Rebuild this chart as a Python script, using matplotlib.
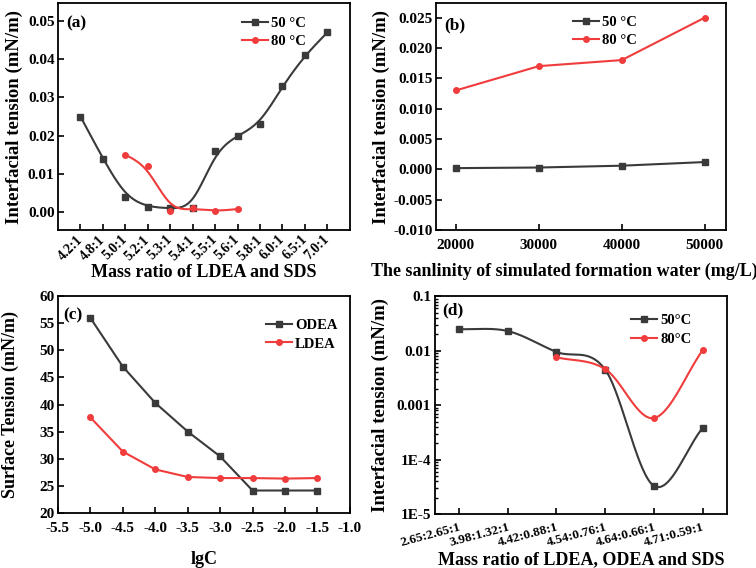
import numpy as np
import matplotlib.pyplot as plt
from matplotlib.ticker import MultipleLocator, FixedLocator, NullFormatter

plt.rcParams['font.family'] = 'Liberation Serif'
plt.rcParams['font.weight'] = 'bold'
plt.rcParams['axes.labelweight'] = 'bold'

BLACK = '#3a3a3a'
RED = '#f03c3c'

# (a) IFT vs mass ratio LDEA:SDS
ratios_a = ['4.2:1', '4.8:1', '5.0:1', '5.2:1', '5.3:1', '5.4:1',
            '5.5:1', '5.6:1', '5.8:1', '6.0:1', '6.5:1', '7.0:1']
ift_a_50 = [0.025, 0.014, 0.004, 0.0013, 0.001, 0.001,
            0.016, 0.020, 0.023, 0.033, 0.041, 0.047]
ift_a_80 = [None, None, 0.015, 0.012, 0.0003, 0.001,
            0.0002, 0.0008, None, None, None, None]

# (b) IFT vs salinity
salinity = [20000, 30000, 40000, 50000]
ift_b_50 = [0.0002, 0.0003, 0.0006, 0.0012]
ift_b_80 = [0.013, 0.017, 0.018, 0.025]

# (c) surface tension vs lgC
lgc = [-5.0, -4.5, -4.0, -3.5, -3.0, -2.5, -2.0, -1.5]
st_odea = [56.0, 47.0, 40.3, 35.0, 30.4, 24.1, 24.1, 24.1]
st_ldea = [37.6, 31.3, 28.0, 26.6, 26.4, 26.4, 26.3, 26.4]

# (d) IFT vs mass ratio LDEA:ODEA:SDS
ratios_d = ['2.65:2.65:1', '3.98:1.32:1', '4.42:0.88:1',
            '4.54:0.76:1', '4.64:0.66:1', '4.71:0.59:1']
ift_d_50 = [0.025, 0.023, 0.0095, 0.0045, 3.3e-5, 3.8e-4]
ift_d_80 = [None, None, 0.0076, 0.0046, 5.8e-4, 0.0102]


def present(vals):
    idx = [i for i, v in enumerate(vals) if v is not None]
    return np.array(idx, float), np.array([vals[i] for i in idx], float)


def bspline(x, y, n=30):
    # uniform cubic B-spline pinned at the end points (smoothed line)
    p = np.column_stack([x, y])
    p = np.vstack([2 * p[0] - p[1], p, 2 * p[-1] - p[-2]])
    t = np.linspace(0, 1, n)[:, None]
    out = []
    for i in range(1, len(p) - 2):
        seg = ((1 - t) ** 3 * p[i - 1] + (3 * t ** 3 - 6 * t ** 2 + 4) * p[i]
               + (-3 * t ** 3 + 3 * t ** 2 + 3 * t + 1) * p[i + 1]
               + t ** 3 * p[i + 2]) / 6
        out.append(seg)
    out = np.vstack(out)
    return out[:, 0], out[:, 1]


def catmull(x, y, n=40):
    # Catmull-Rom curve through the points
    x = np.asarray(x, float)
    y = np.asarray(y, float)
    m = np.gradient(y, x)
    xs, ys = [], []
    for i in range(len(x) - 1):
        h = x[i + 1] - x[i]
        t = np.linspace(0, 1, n)
        h00 = 2 * t ** 3 - 3 * t ** 2 + 1
        h10 = t ** 3 - 2 * t ** 2 + t
        h01 = -2 * t ** 3 + 3 * t ** 2
        h11 = t ** 3 - t ** 2
        xs.append(x[i] + t * h)
        ys.append(h00 * y[i] + h10 * h * m[i] + h01 * y[i + 1] + h11 * h * m[i + 1])
    return np.concatenate(xs), np.concatenate(ys)


def style(ax, xpad=6.5):
    for s in ax.spines.values():
        s.set_linewidth(1.3)
    ax.tick_params(direction='in', length=4, width=1.2, labelsize=11,
                   top=False, right=False)
    ax.tick_params(axis='x', pad=xpad)
    ax.tick_params(axis='y', pad=2.5)
    ax.tick_params(which='minor', direction='in', length=2, width=1.0)


fig = plt.figure(figsize=(7.56, 5.68), dpi=100)
ax_a = fig.add_axes([0.0767, 0.595, 0.386, 0.3997])
ax_b = fig.add_axes([0.5767, 0.595, 0.3836, 0.3997])
ax_c = fig.add_axes([0.0767, 0.0974, 0.386, 0.3809])
ax_d = fig.add_axes([0.575, 0.095, 0.3866, 0.3833])

leg_kw = dict(frameon=False, fontsize=10.5, handlelength=1.8, handletextpad=0.2,
              labelspacing=0.35, borderpad=0, borderaxespad=0, loc='upper left')
LBL = 13

# ---- (a)
xa, ya = present(ift_a_50)
sx, sy = bspline(xa, ya)
ax_a.plot(sx, sy, color=BLACK, lw=1.5)
ax_a.plot(xa, ya, 's', color=BLACK, ms=4)
xr, yr = present(ift_a_80)
sx, sy = bspline(xr, yr)
ax_a.plot(sx, sy, color=RED, lw=1.5)
ax_a.plot(xr, yr, 'o', color=RED, ms=4)
ax_a.plot([], [], '-s', color=BLACK, ms=4, lw=1.5, label='50 °C')
ax_a.plot([], [], '-o', color=RED, ms=4, lw=1.5, label='80 °C')
ax_a.set_xlim(-1, 12)
ax_a.set_ylim(-0.0047, 0.0547)
ax_a.set_xticks(range(len(ratios_a)))
ax_a.set_xticklabels(ratios_a, rotation=45, ha='right', va='center',
                     rotation_mode='anchor')
ax_a.yaxis.set_major_locator(MultipleLocator(0.01))
ax_a.yaxis.set_major_formatter(plt.FuncFormatter(lambda v, p: f'{v:.2f}'))
ax_a.set_xlabel('Mass ratio of LDEA and SDS', fontsize=LBL)
ax_a.set_ylabel('Interfacial tension (mN/m)', fontsize=13.5)
ax_a.xaxis.set_label_coords(0.5, -0.15)
ax_a.yaxis.set_label_coords(-0.12, 0.5)
ax_a.legend(bbox_to_anchor=(0.629, 0.94), **leg_kw)
ax_a.text(0.027, 0.91, '(a)', transform=ax_a.transAxes, fontsize=12.5,
          fontweight='bold', va='center')

# ---- (b)
ax_b.plot(salinity, ift_b_50, '-s', color=BLACK, ms=4, lw=1.5, label='50 °C')
ax_b.plot(salinity, ift_b_80, '-o', color=RED, ms=4, lw=1.5, label='80 °C')
ax_b.set_xlim(17600, 52550)
ax_b.set_ylim(-0.010, 0.0274)
ax_b.set_xticks(salinity)
ax_b.yaxis.set_major_locator(MultipleLocator(0.005))
ax_b.yaxis.set_major_formatter(plt.FuncFormatter(lambda v, p: f'{v:.3f}'))
ax_b.set_xlabel('The sanlinity of simulated formation water (mg/L)', fontsize=LBL)
ax_b.set_ylabel('Interfacial tension (mN/m)', fontsize=13.5)
ax_b.xaxis.set_label_coords(0.441, -0.145)
ax_b.yaxis.set_label_coords(-0.159, 0.5)
ax_b.legend(bbox_to_anchor=(0.472, 0.943), **leg_kw)
ax_b.text(0.03, 0.903, '(b)', transform=ax_b.transAxes, fontsize=12.5,
          fontweight='bold', va='center')

# ---- (c)
ax_c.plot(lgc, st_odea, '-s', color=BLACK, ms=4, lw=1.5, label='ODEA')
ax_c.plot(lgc, st_ldea, '-o', color=RED, ms=4, lw=1.5, label='LDEA')
ax_c.set_xlim(-5.5, -1.0)
ax_c.set_ylim(20, 60)
ax_c.xaxis.set_major_locator(MultipleLocator(0.5))
ax_c.yaxis.set_major_locator(MultipleLocator(5))
ax_c.xaxis.set_major_formatter(plt.FuncFormatter(lambda v, p: f'{v:.1f}'))
ax_c.set_xlabel('lgC', fontsize=LBL)
ax_c.set_ylabel('Surface Tension (mN/m)', fontsize=LBL)
ax_c.xaxis.set_label_coords(0.5, -0.177)
ax_c.yaxis.set_label_coords(-0.135, 0.5)
ax_c.legend(bbox_to_anchor=(0.712, 0.895), **leg_kw)
ax_c.text(0.017, 0.911, '(c)', transform=ax_c.transAxes, fontsize=12.5,
          fontweight='bold', va='center')

# ---- (d)
xd, yd = present(ift_d_50)
sx, sy = catmull(xd, np.log10(yd))
ax_d.plot(sx, 10 ** sy, color=BLACK, lw=1.5)
ax_d.plot(xd, yd, 's', color=BLACK, ms=4)
xr, yr = present(ift_d_80)
sx, sy = catmull(xr, np.log10(yr))
ax_d.plot(sx, 10 ** sy, color=RED, lw=1.5)
ax_d.plot(xr, yr, 'o', color=RED, ms=4)
ax_d.plot([], [], '-s', color=BLACK, ms=4, lw=1.5, label='50°C')
ax_d.plot([], [], '-o', color=RED, ms=4, lw=1.5, label='80°C')
ax_d.set_yscale('log')
ax_d.set_ylim(1e-5, 0.1)
ax_d.set_xlim(-0.5, 5.5)
ax_d.yaxis.set_major_locator(FixedLocator([1e-5, 1e-4, 1e-3, 1e-2, 1e-1]))
ax_d.set_yticklabels(['1E-5', '1E-4', '0.001', '0.01', '0.1'])
ax_d.yaxis.set_minor_formatter(NullFormatter())
ax_d.set_xticks(range(len(ratios_d)))
ax_d.set_xticklabels(ratios_d, rotation=15, ha='right', rotation_mode='anchor')
ax_d.set_xlabel('Mass ratio of LDEA, ODEA and SDS', fontsize=LBL)
ax_d.set_ylabel('Interfacial tension (mN/m)', fontsize=13.5)
ax_d.xaxis.set_label_coords(0.5, -0.17)
ax_d.yaxis.set_label_coords(-0.155, 0.5)
ax_d.legend(bbox_to_anchor=(0.672, 0.918), **leg_kw)
ax_d.text(0.025, 0.935, '(d)', transform=ax_d.transAxes, fontsize=12.5,
          fontweight='bold', va='center')

style(ax_a, xpad=5.5)
style(ax_b)
style(ax_c)
style(ax_d, xpad=5)
ax_a.tick_params(axis='x', labelsize=10)
ax_d.tick_params(axis='x', labelsize=9.5)

plt.savefig('out.png', dpi=100)
